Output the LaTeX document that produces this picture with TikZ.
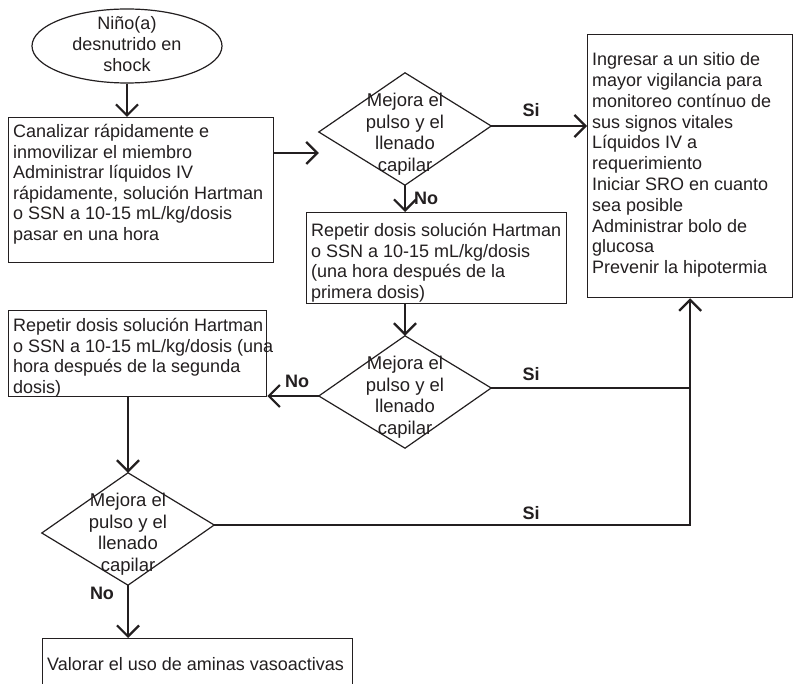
\documentclass[tikz,border=0pt]{standalone}
\usepackage{fontspec}
\setmainfont{Liberation Sans}
\usetikzlibrary{shapes.geometric,arrows.meta,calc}
\definecolor{ink}{HTML}{231F20}
\newcommand{\bx}[4]{\parbox[c][#1][t]{#2}{\rule{0pt}{#3}\begin{tabular}[t]{@{}l@{}}#4\end{tabular}}}
\newcommand{\ctext}[2]{\makebox[0pt]{\raisebox{#1}[0pt][0pt]{\begin{tabular}{@{}c@{}}#2\end{tabular}}}}
\begin{document}
\begin{tikzpicture}[x=1pt,y=-1pt,
  every node/.style={text=ink},
  font=\fontsize{18}{20.5}\selectfont,
  box/.style={draw=ink, line width=1.3pt, rectangle, anchor=north west, inner xsep=4.5pt, inner ysep=0pt},
  dec/.style={diamond, minimum width=172pt, minimum height=112pt, inner sep=0pt, font=\fontsize{18.5}{21.5}\selectfont},
  decline/.style={draw=ink, line width=1.2pt, line join=miter},
  start/.style={draw=ink, line width=1.2pt, ellipse, minimum width=190pt, minimum height=74pt, inner sep=0pt, font=\fontsize{18}{21}\selectfont},
  conn/.style={draw=ink, line width=2.2pt},
  arr/.style={conn, -{Straight Barb[length=11pt,width=22pt]}},
  lab/.style={font=\fontsize{18}{20}\selectfont\bfseries, inner sep=0pt},
]
\useasboundingbox (0,0) rectangle (793,684);
\fill[white] (0,0) rectangle (793,684);

\node[start] (e) at (127,46) {\ctext{-5pt}{Niño(a)\\desnutrido en\\shock}};

\node[box] (b1) at (8,117) {\bx{145pt}{256pt}{20pt}{Canalizar rápidamente e\\inmovilizar el miembro\\Administrar líquidos IV\\rápidamente, solución Hartman\\o SSN a 10-15 mL/kg/dosis\\pasar en una hora}};

\node[dec] (d1) at (405,129) {\ctext{-10pt}{Mejora el\\pulso y el\\llenado\\capilar}};
\coordinate (d1w) at ($(d1.west)+(0,3)$);
\coordinate (d1e) at ($(d1.east)+(0,-3)$);
\draw[decline] (d1.north) -- (d1e) -- (d1.south) -- (d1w) -- cycle;

\node[box, font=\fontsize{18}{20.8}\selectfont] (rb) at (587,34) {\bx{263pt}{196pt}{31pt}{Ingresar a un sitio de\\mayor vigilancia para\\monitoreo contínuo de\\sus signos vitales\\Líquidos IV a\\requerimiento\\Iniciar SRO en cuanto\\sea posible\\Administrar bolo de\\glucosa\\Prevenir la hipotermia}};

\node[box] (b2) at (306,212) {\bx{91pt}{251pt}{24pt}{Repetir dosis solución Hartman\\o SSN a 10-15 mL/kg/dosis\\(una hora después de la\\primera dosis)}};

\node[dec] (d2) at (405,392) {\ctext{-10pt}{Mejora el\\pulso y el\\llenado\\capilar}};
\coordinate (d2w) at ($(d2.west)+(0,4)$);
\coordinate (d2e) at ($(d2.east)+(0,-4)$);
\draw[decline] (d2.north) -- (d2e) -- (d2.south) -- (d2w) -- cycle;

\node[box] (b3) at (8,310) {\bx{86pt}{249pt}{21pt}{Repetir dosis solución Hartman\\o SSN a 10-15 mL/kg/dosis (una\\hora después de la segunda\\dosis)}};

\node[dec] (d3) at (128,529) {\ctext{-10pt}{Mejora el\\pulso y el\\llenado\\capilar}};
\coordinate (d3w) at ($(d3.west)+(0,4)$);
\coordinate (d3e) at ($(d3.east)+(0,-4)$);
\draw[decline] (d3.north) -- (d3e) -- (d3.south) -- (d3w) -- cycle;

\node[box] (b4) at (42,638) {\bx{70pt}{301pt}{32pt}{Valorar el uso de aminas vasoactivas}};

\node[lab] (s1) at (531,110) {Si};
\node[lab] (n1) at (426,198) {No};
\node[lab] (n2) at (297,381) {No};
\node[lab] (s2) at (531,374) {Si};
\node[lab] (s3) at (531,513) {Si};
\node[lab] (n3) at (102,593) {No};

\coordinate (b1o) at ($(b1.north east)+(0,36)$);
\draw[arr] (e.south) -- (e.south |- b1.north);
\draw[arr] (b1o) -- (b1o -| d1.west);
\draw[arr] (d1e) -- (d1e -| rb.west);
\draw[arr] (d1.south) -- (d1.south |- b2.north);
\draw[arr] (d2.north |- b2.south) -- (d2.north);
\draw[arr] (d2w) -- (d2w -| b3.east);
\draw[conn] (d2e) -- (d2e -| rb.south);
\draw[arr] (d3e) -- (d3e -| rb.south) -- (rb.south);
\draw[arr] (d3.north |- b3.south) -- (d3.north);
\draw[arr] (d3.south) -- (d3.south |- b4.north);
\end{tikzpicture}
\end{document}
